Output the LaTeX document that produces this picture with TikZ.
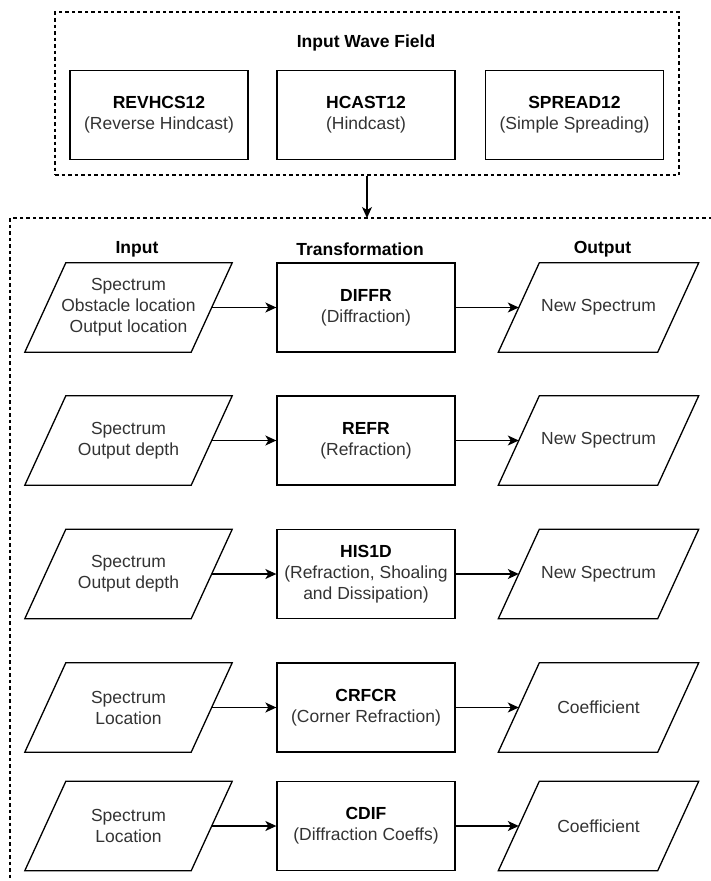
\documentclass[tikz,border=0pt]{standalone}
\usepackage{fontspec}
\setmainfont{Liberation Sans}
\usetikzlibrary{arrows.meta}
\newcommand\boxfont{\fontsize{17.5}{21}\selectfont}
\newcommand\progname[1]{\textcolor{black}{\textbf{#1}}}

\begin{document}
\begin{tikzpicture}[
  x=1pt,y=-1pt,
  every node/.style={font=\boxfont,text=black!80},
  pen/.style={line width=1.3pt},
  flow/.style={pen,-{Stealth[length=11pt,width=10pt,inset=3pt]}},
  group/.style={draw,pen,dash pattern=on 3.5pt off 3pt},
  head/.style={font=\boxfont\bfseries,text=black},
  progbox/.style={draw,pen,minimum width=178pt,minimum height=89pt,inner sep=0pt,align=center},
  iobox/.style={minimum width=#1,minimum height=89pt,inner sep=0pt,align=center,
    append after command={\pgfextra{\draw[pen]
      ([xshift=20.5pt]\tikzlastnode.north west) -- ([xshift=20.5pt]\tikzlastnode.north east) --
      ([xshift=-20.5pt]\tikzlastnode.south east) -- ([xshift=-20.5pt]\tikzlastnode.south west) -- cycle;}}}
]
  \useasboundingbox (0,0) rectangle (710,881);

  % wave field sources
  \node[group,minimum width=624pt,minimum height=163pt] (wave) at (367,93.5) {};
  \node[head] (wavetitle) at (366,43) {Input Wave Field};
  \node[progbox] (revhcs) at (159,115) {\progname{REVHCS12}\\(Reverse Hindcast)};
  \node[progbox] (hcast) at (366,115) {\progname{HCAST12}\\(Hindcast)};
  \node[progbox] (spread) at (574.5,115) {\progname{SPREAD12}\\(Simple Spreading)};

  % transformation block (runs off the page)
  \coordinate (flowtop) at (367,218);
  \draw[group] (712,218) -- (10,218) -- (10,883);
  \draw[flow] (wave) -- (flowtop);

  \node[head] (inhead) at (137,249) {Input};
  \node[head] (trhead) at (360,249) {Transformation};
  \node[head] (outhead) at (602.5,249) {Output};

  \foreach \y/\id/\intext/\prtext/\outtext in {
    307.5/diffr/{Spectrum\\Obstacle location\\Output location}/{\progname{DIFFR}\\(Diffraction)}/{New Spectrum},
    440.5/refr/{Spectrum\\Output depth}/{\progname{REFR}\\(Refraction)}/{New Spectrum},
    574/hisd/{Spectrum\\Output depth}/{\progname{HIS1D}\\(Refraction, Shoaling\\and Dissipation)}/{New Spectrum},
    707.5/crfcr/{Spectrum\\Location}/{\progname{CRFCR}\\(Corner Refraction)}/{Coefficient},
    826/cdif/{Spectrum\\Location}/{\progname{CDIF}\\(Diffraction Coeffs)}/{Coefficient}}{
    \node[iobox=166pt] (in\id) at (128.5,\y) {\intext};
    \node[progbox] (pr\id) at (366,\y) {\prtext};
    \node[iobox=159pt] (out\id) at (598.5,\y) {\outtext};
    \draw[flow] (in\id) -- (pr\id);
    \draw[flow] (pr\id) -- (out\id);
  }
\end{tikzpicture}
\end{document}
